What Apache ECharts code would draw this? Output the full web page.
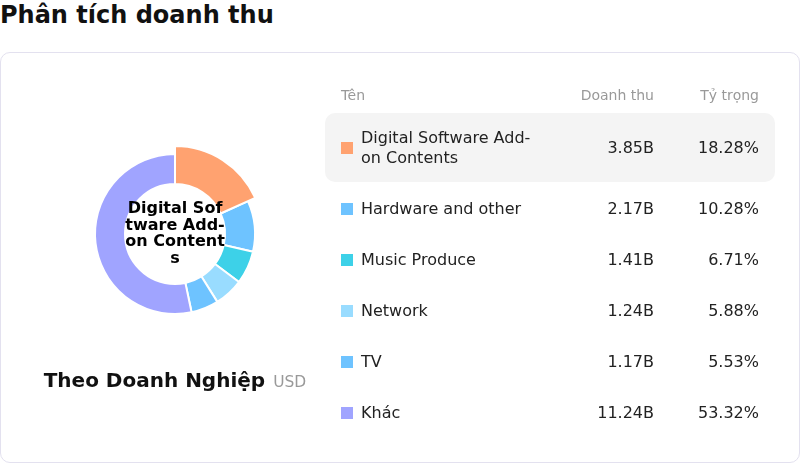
<!DOCTYPE html>
<html>
<head>
<meta charset="utf-8">
<script src="https://cdn.jsdelivr.net/npm/echarts@6/dist/echarts.min.js"></script>
<style>
  html, body { margin:0; padding:0; width:800px; height:463px; overflow:hidden; background:#fff; font-family:"DejaVu Sans", sans-serif; }
  #title { position:absolute; left:0; top:0; font-size:24px; font-weight:bold; color:#111; line-height:30px; }
  #card { position:absolute; left:0; top:52px; width:798px; height:409px; border:1px solid #e3e1ef; border-radius:10px; }
  #chart { position:absolute; left:0; top:0; width:350px; height:463px; }
  #sub { position:absolute; left:0; top:367px; width:350px; text-align:center; line-height:26px; }
  #sub b { font-size:20px; color:#111; }
  #sub span { font-size:15.5px; color:#999; margin-left:8px; }
  #tbl { position:absolute; left:325px; top:86px; width:450px; }
  .row { display:flex; align-items:center; padding:14.5px 16px; border-radius:10px; margin-bottom:2px; font-size:16px; color:#222; line-height:20px; }
  .hdr { padding:0 16px; margin-bottom:9px; font-size:14px; color:#999; line-height:18px; }
  .c1 { width:213px; display:flex; align-items:center; }
  .c1 .sw { width:12px; height:12px; flex:none; margin-right:8px; }
  .c1 .nm { width:178px; }
  .c2 { width:100px; text-align:right; }
  .c3 { width:105px; text-align:right; }
  .active { background:#f4f4f4; }
</style>
</head>
<body>
<div id="title">Phân tích doanh thu</div>
<div id="card"></div>
<div id="chart"></div>
<div id="sub"><b>Theo Doanh Nghiệp</b><span>USD</span></div>
<div id="tbl"></div>
<script>
// dữ liệu doanh thu
var names = ['Digital Software Add-on Contents', 'Hardware and other', 'Music Produce', 'Network', 'TV', 'Khác'];
var revenue = [3.85, 2.17, 1.41, 1.24, 1.17, 11.24]; // tỷ USD
var shareLabels = ['18.28%', '10.28%', '6.71%', '5.88%', '5.53%', '53.32%'];
var colors = ['#FFA270', '#6EC3FF', '#3DD1E8', '#99DCFF', '#6EC3FF', '#A0A4FF'];
var headers = ['Tên', 'Doanh thu', 'Tỷ trọng'];

// bảng bên phải
var html = '<div class="row hdr"><div class="c1">' + headers[0] + '</div><div class="c2">' + headers[1] + '</div><div class="c3">' + headers[2] + '</div></div>';
names.forEach(function(n, i){
  html += '<div class="row' + (i === 0 ? ' active' : '') + '">' +
    '<div class="c1"><div class="sw" style="background:' + colors[i] + '"></div><div class="nm">' + n + '</div></div>' +
    '<div class="c2">' + revenue[i].toFixed(2) + 'B</div>' +
    '<div class="c3">' + shareLabels[i] + '</div></div>';
});
document.getElementById('tbl').innerHTML = html;

var myChart = echarts.init(document.getElementById('chart'));
var option = {
  animation:false,
  series:[{
    type:'pie',
    center:[175, 234],
    radius:[50, 80],
    startAngle:90,
    avoidLabelOverlap:false,
    itemStyle:{ borderColor:'#fff', borderWidth:2 },
    label:{ show:false, position:'center' },
    labelLine:{ show:false },
    emphasis:{
      scale:true,
      scaleSize:8,
      label:{
        show:true,
        fontSize:16,
        fontWeight:'bold',
        color:'#000',
        width:101,
        overflow:'breakAll',
        lineHeight:16.5,
        fontFamily:'DejaVu Sans'
      }
    },
    data:names.map(function(n, i){
      return { name:n, value:revenue[i], itemStyle:{ color:colors[i] }, emphasis:{ itemStyle:{ color:colors[i] } } };
    })
  }]
};
myChart.setOption(option);
myChart.dispatchAction({ type:'highlight', seriesIndex:0, dataIndex:0 });
</script>
</body>
</html>
